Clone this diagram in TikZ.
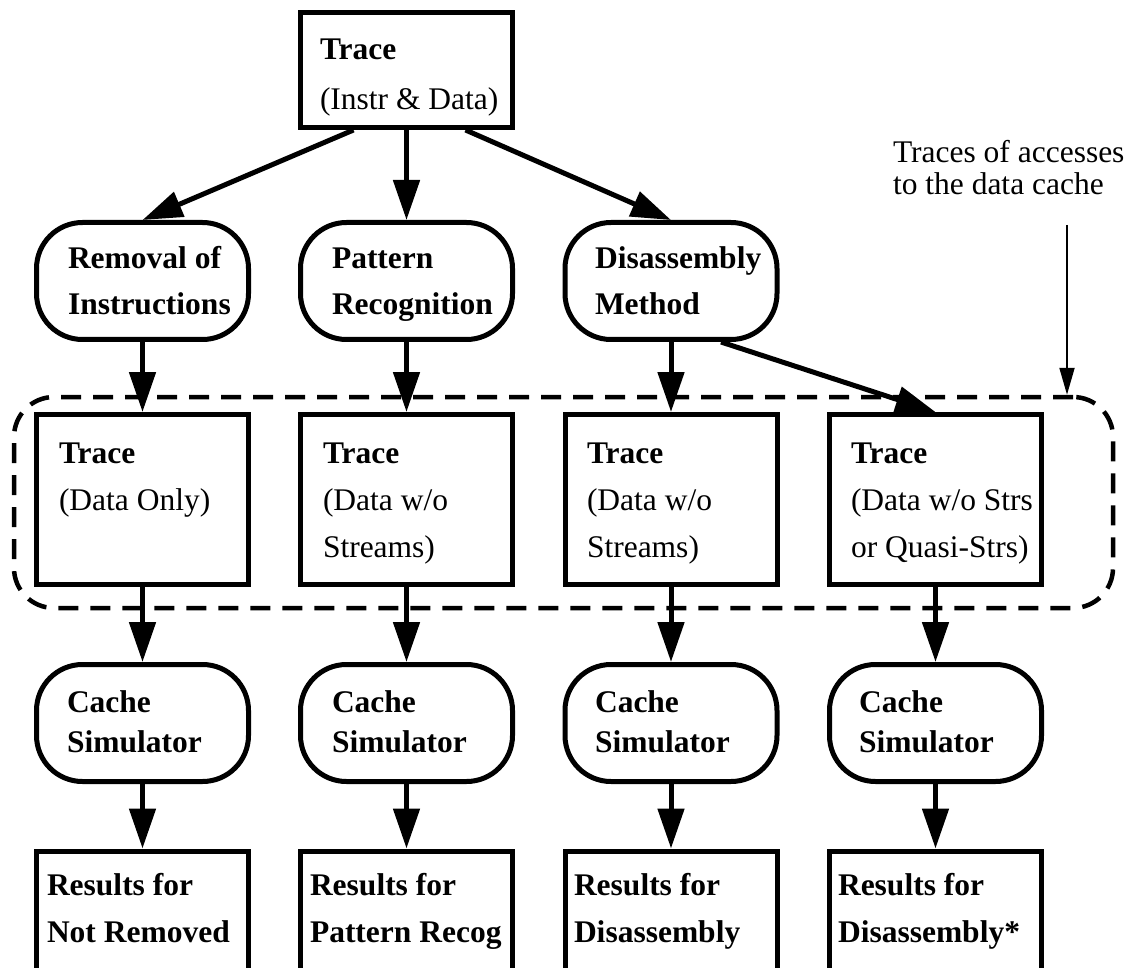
\documentclass[tikz,border=0pt]{standalone}
\usepackage{fontspec}
\setmainfont{Liberation Serif}
\usetikzlibrary{arrows.meta,calc}
\begin{document}
\begin{tikzpicture}[x=1pt,y=-1pt,
  box/.style={draw, line width=5pt, minimum width=212pt, inner sep=0pt},
  rbox/.style={box, rounded corners=46pt},
  lbl/.style={anchor=base west, align=left, inner sep=0pt, outer sep=0pt},
  bl/.style={lbl, font=\bfseries\fontsize{31.5}{47}\selectfont},
  arr/.style={line width=5pt, -{Triangle[length=40pt,width=26pt]}},
  thinarr/.style={line width=2pt, -{Triangle[length=27pt,width=15pt]}},
  dashbox/.style={draw, line width=4.5pt, dash pattern=on 20pt off 12pt, rounded corners=40pt, inner sep=0pt}
]
\clip (0,0) rectangle (1138,968);
\fill[white] (0,0) rectangle (1138,968);

% dashed group
\node[dashbox, minimum width=1099pt, minimum height=211pt] (grp) at (563.5,502.5) {};

% top
\node[box, minimum height=115pt] (src) at (406.5,70) {};
\node[lbl, font=\fontsize{31.5}{50}\selectfont] (srct) at (320,110) {\textbf{Trace}\\(Instr \& Data)};

% row 2
\node[rbox, minimum height=117pt] (rem) at (142.5,281) {};
\node[rbox, minimum height=117pt] (pat) at (406.5,281) {};
\node[rbox, minimum height=117pt] (dis) at (671,281) {};
\node[lbl, font=\bfseries\fontsize{31.5}{46}\selectfont] (remt) at (68,315) {Removal of\\Instructions};
\node[lbl, font=\bfseries\fontsize{31.5}{46}\selectfont] (patt) at (332,315) {Pattern\\Recognition};
\node[lbl, font=\bfseries\fontsize{31.5}{46}\selectfont] (dist) at (595,315) {Disassembly\\Method};

% row 3
\node[box, minimum height=170pt] (t1) at (142.5,499.5) {};
\node[box, minimum height=170pt] (t2) at (406.5,499.5) {};
\node[box, minimum height=170pt] (t3) at (671,499.5) {};
\node[box, minimum height=170pt] (t4) at (935.5,499.5) {};
\node[lbl, font=\fontsize{31.5}{47}\selectfont] (t1t) at (59,510) {\textbf{Trace}\\(Data Only)};
\node[lbl, font=\fontsize{31.5}{47}\selectfont] (t2t) at (323,557) {\textbf{Trace}\\(Data w/o\\Streams)};
\node[lbl, font=\fontsize{31.5}{47}\selectfont] (t3t) at (587,557) {\textbf{Trace}\\(Data w/o\\Streams)};
\node[lbl, font=\fontsize{31.5}{47}\selectfont] (t4t) at (851,557) {\textbf{Trace}\\(Data w/o Strs\\or Quasi-Strs)};

% row 4
\node[rbox, minimum height=117pt] (c1) at (142.5,723) {};
\node[rbox, minimum height=117pt] (c2) at (406.5,723) {};
\node[rbox, minimum height=117pt] (c3) at (671,723) {};
\node[rbox, minimum height=117pt] (c4) at (935.5,723) {};
\node[lbl, font=\bfseries\fontsize{31.5}{40}\selectfont] (c1t) at (67,752) {Cache\\Simulator};
\node[lbl, font=\bfseries\fontsize{31.5}{40}\selectfont] (c2t) at (332,752) {Cache\\Simulator};
\node[lbl, font=\bfseries\fontsize{31.5}{40}\selectfont] (c3t) at (595,752) {Cache\\Simulator};
\node[lbl, font=\bfseries\fontsize{31.5}{40}\selectfont] (c4t) at (859,752) {Cache\\Simulator};

% row 5
\node[box, minimum height=160pt] (r1) at (142.5,931) {};
\node[box, minimum height=160pt] (r2) at (406.5,931) {};
\node[box, minimum height=160pt] (r3) at (671,931) {};
\node[box, minimum height=160pt] (r4) at (935.5,931) {};
\node[bl] (r1t) at (47,942) {Results for\\Not Removed};
\node[bl] (r2t) at (310,942) {Results for\\Pattern Recog};
\node[bl] (r3t) at (574,942) {Results for\\Disassembly};
\node[bl] (r4t) at (838,942) {Results for\\Disassembly*};

% annotation
\node[lbl, font=\fontsize{31.5}{32}\selectfont] (ann) at (893,195) {Traces of accesses\\to the data cache};
\coordinate (annp) at (1067,225);

% connectors
\draw[arr] ($(src.south)+(-53,0)$) -- (rem.north);
\draw[arr] (src.south) -- (pat.north);
\draw[arr] ($(src.south)+(59,0)$) -- (dis.north);
\draw[arr] (rem.south) -- (t1.north);
\draw[arr] (pat.south) -- (t2.north);
\draw[arr] (dis.south) -- (t3.north);
\draw[arr] ($(dis.south)+(50,0)$) -- (t4.north);
\foreach \i in {1,2,3,4}{
  \draw[arr] (t\i.south) -- (c\i.north);
  \draw[arr] (c\i.south) -- (r\i.north);
}
\draw[thinarr] (annp) -- (annp |- grp.north);
\end{tikzpicture}
\end{document}
